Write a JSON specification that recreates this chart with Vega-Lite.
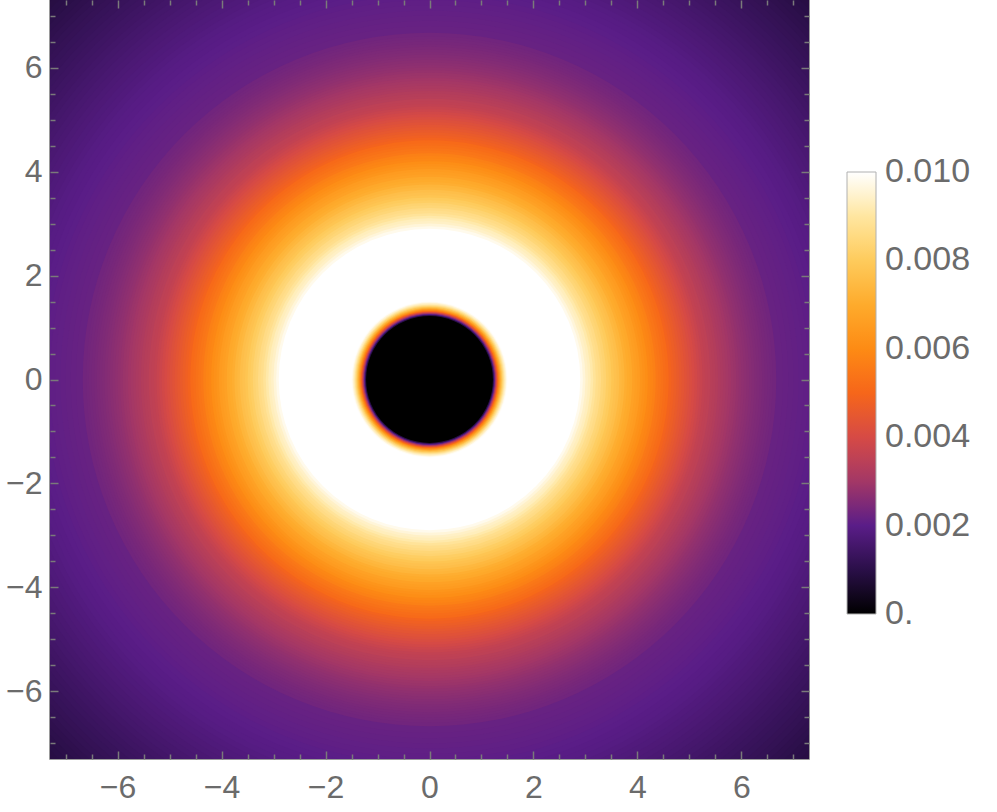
{
  "$schema": "https://vega.github.io/schema/vega-lite/v6.json",
  "autosize": "none",
  "width": 759,
  "height": 759,
  "padding": {"left": 50, "top": 0, "right": 188, "bottom": 53},
  "background": "white",
  "config": {
    "view": {"stroke": "#7a7a7a", "strokeWidth": 1.5},
    "font": "Liberation Sans",
    "axis": {"labelFont": "Liberation Sans", "labelColor": "#6b6b6b", "tickColor": "#7a7a7a", "tickWidth": 1.5, "domain": false, "grid": false, "labelOverlap": false, "labelFlush": false, "zindex": 2}
  },
  "datasets": {
    "profile": [
      {"r": 10.5, "v": 0.0009}, {"r": 10.4, "v": 0.00092}, {"r": 10.3, "v": 0.00095}, {"r": 10.2, "v": 0.00098}, {"r": 10.1, "v": 0.00102},
      {"r": 10.0, "v": 0.00106}, {"r": 9.9, "v": 0.0011}, {"r": 9.8, "v": 0.00114}, {"r": 9.7, "v": 0.00118}, {"r": 9.6, "v": 0.00122},
      {"r": 9.5, "v": 0.00126}, {"r": 9.4, "v": 0.0013}, {"r": 9.3, "v": 0.00134}, {"r": 9.2, "v": 0.00138}, {"r": 9.1, "v": 0.00142},
      {"r": 9.0, "v": 0.00146}, {"r": 8.9, "v": 0.0015}, {"r": 8.8, "v": 0.00154}, {"r": 8.7, "v": 0.00158}, {"r": 8.6, "v": 0.00162},
      {"r": 8.5, "v": 0.00166}, {"r": 8.4, "v": 0.0017}, {"r": 8.3, "v": 0.00174}, {"r": 8.2, "v": 0.00178}, {"r": 8.1, "v": 0.00182},
      {"r": 8.0, "v": 0.00186}, {"r": 7.9, "v": 0.0019}, {"r": 7.8, "v": 0.00193}, {"r": 7.7, "v": 0.00196}, {"r": 7.6, "v": 0.00199},
      {"r": 7.5, "v": 0.00202}, {"r": 7.4, "v": 0.00205}, {"r": 7.3, "v": 0.00208}, {"r": 7.2, "v": 0.0021}, {"r": 7.1, "v": 0.00212},
      {"r": 7.0, "v": 0.00214}, {"r": 6.9, "v": 0.00216}, {"r": 6.8, "v": 0.00218}, {"r": 6.67, "v": 0.00231},
      {"r": 6.6, "v": 0.00234}, {"r": 6.55, "v": 0.00237}, {"r": 6.5, "v": 0.0024}, {"r": 6.45, "v": 0.00243}, {"r": 6.4, "v": 0.00246},
      {"r": 6.35, "v": 0.00249}, {"r": 6.3, "v": 0.00252}, {"r": 6.25, "v": 0.00256}, {"r": 6.2, "v": 0.0026}, {"r": 6.15, "v": 0.00264},
      {"r": 6.1, "v": 0.00268}, {"r": 6.05, "v": 0.00272}, {"r": 6.0, "v": 0.00277}, {"r": 5.95, "v": 0.00282}, {"r": 5.9, "v": 0.00287},
      {"r": 5.85, "v": 0.00292}, {"r": 5.8, "v": 0.00298}, {"r": 5.75, "v": 0.00304}, {"r": 5.7, "v": 0.0031}, {"r": 5.65, "v": 0.00316},
      {"r": 5.6, "v": 0.00322}, {"r": 5.55, "v": 0.0033}, {"r": 5.5, "v": 0.00335}, {"r": 5.45, "v": 0.0034}, {"r": 5.4, "v": 0.0035},
      {"r": 5.35, "v": 0.00355}, {"r": 5.3, "v": 0.0036}, {"r": 5.25, "v": 0.0037}, {"r": 5.2, "v": 0.0038}, {"r": 5.15, "v": 0.0039},
      {"r": 5.1, "v": 0.004}, {"r": 5.05, "v": 0.0041}, {"r": 5.0, "v": 0.0042}, {"r": 4.95, "v": 0.0043}, {"r": 4.9, "v": 0.0044},
      {"r": 4.85, "v": 0.0045}, {"r": 4.8, "v": 0.0046}, {"r": 4.75, "v": 0.0047}, {"r": 4.7, "v": 0.0048}, {"r": 4.65, "v": 0.0049},
      {"r": 4.6, "v": 0.0051}, {"r": 4.55, "v": 0.0052}, {"r": 4.5, "v": 0.0053}, {"r": 4.45, "v": 0.0054}, {"r": 4.4, "v": 0.0055},
      {"r": 4.35, "v": 0.0057}, {"r": 4.3, "v": 0.0058}, {"r": 4.25, "v": 0.0059}, {"r": 4.2, "v": 0.0061}, {"r": 4.15, "v": 0.0062},
      {"r": 4.1, "v": 0.0063}, {"r": 4.05, "v": 0.0065}, {"r": 4.0, "v": 0.0066}, {"r": 3.95, "v": 0.0067}, {"r": 3.9, "v": 0.0069},
      {"r": 3.85, "v": 0.007}, {"r": 3.8, "v": 0.0071}, {"r": 3.75, "v": 0.0073}, {"r": 3.7, "v": 0.0074}, {"r": 3.65, "v": 0.0076},
      {"r": 3.6, "v": 0.0077}, {"r": 3.55, "v": 0.0078}, {"r": 3.5, "v": 0.008}, {"r": 3.45, "v": 0.0081}, {"r": 3.4, "v": 0.0083},
      {"r": 3.35, "v": 0.0084}, {"r": 3.3, "v": 0.0086}, {"r": 3.25, "v": 0.0087}, {"r": 3.2, "v": 0.0089}, {"r": 3.15, "v": 0.0091},
      {"r": 3.1, "v": 0.0093}, {"r": 3.05, "v": 0.0094}, {"r": 3.0, "v": 0.0096}, {"r": 2.95, "v": 0.0098}, {"r": 2.9, "v": 0.01},
      {"r": 2.85, "v": 0.0105}, {"r": 1.5, "v": 0.0099}, {"r": 1.48, "v": 0.0096}, {"r": 1.46, "v": 0.0093}, {"r": 1.44, "v": 0.0089},
      {"r": 1.42, "v": 0.0084}, {"r": 1.4, "v": 0.0078}, {"r": 1.38, "v": 0.0072}, {"r": 1.36, "v": 0.0065}, {"r": 1.34, "v": 0.0058},
      {"r": 1.32, "v": 0.005}, {"r": 1.3, "v": 0.004}, {"r": 1.28, "v": 0.003}, {"r": 1.26, "v": 0.002}, {"r": 1.24, "v": 0.001},
      {"r": 1.22, "v": 0.0}
    ],
    "frame": [{"x": -7.3, "y": -7.3}, {"x": 7.3, "y": 7.3}]
  },
  "layer": [
    {
      "data": {"name": "profile"},
      "mark": {"type": "arc", "theta": 0, "theta2": 6.2832, "clip": true, "strokeWidth": 0},
      "encoding": {
        "radius": {"field": "r", "type": "quantitative", "stack": null, "scale": {"type": "linear", "domain": [0, 7.3], "range": [0, 379.5], "zero": true, "nice": false}},
        "color": {
          "field": "v", "type": "quantitative",
          "scale": {
            "type": "linear",
            "domain": [0, 0.001, 0.002, 0.003, 0.004, 0.005, 0.006, 0.007, 0.008, 0.009, 0.01],
            "range": ["#000000", "#2a0f48", "#5a1d88", "#a33766", "#d64a45", "#f6661a", "#fd8b14", "#feab2c", "#fecb5c", "#ffe6a0", "#ffffff"],
            "clamp": true,
            "interpolate": "rgb"
          },
          "legend": {
            "title": null,
            "orient": "none",
            "legendX": 797,
            "legendY": 172,
            "direction": "vertical",
            "gradientLength": 442,
            "gradientThickness": 29,
            "gradientStrokeColor": "#b0b0b0",
            "gradientStrokeWidth": 1,
            "values": [0, 0.002, 0.004, 0.006, 0.008, 0.01],
            "labelExpr": "datum.value == 0 ? '0.' : format(datum.value, '.3f')",
            "labelFont": "Liberation Sans",
            "labelFontSize": 34,
            "labelColor": "#6b6b6b",
            "labelOffset": 9,
            "labelOverlap": false,
            "padding": 0,
            "encode": {"labels": {"update": {"baseline": {"value": "middle"}}}}
          }
        }
      }
    },
    {
      "data": {"name": "frame"},
      "mark": {"type": "point", "opacity": 0},
      "encoding": {
        "x": {"field": "x", "type": "quantitative", "scale": {"domain": [-7.3, 7.3], "nice": false, "zero": false},
          "axis": {"orient": "bottom", "title": null, "zindex": 2, "values": [-7, -6.5, -6, -5.5, -5, -4.5, -4, -3.5, -3, -2.5, -2, -1.5, -1, -0.5, 0, 0.5, 1, 1.5, 2, 2.5, 3, 3.5, 4, 4.5, 5, 5.5, 6, 6.5, 7],
            "labelExpr": "datum.value % 2 === 0 ? format(datum.value, 'd') : ''", "labelFontSize": 32, "labelPadding": 21,
            "tickSize": {"condition": {"test": "datum.value % 2 === 0", "value": -8}, "value": -5}}},
        "y": {"field": "y", "type": "quantitative", "scale": {"domain": [-7.3, 7.3], "nice": false, "zero": false},
          "axis": {"orient": "left", "title": null, "zindex": 2, "values": [-7, -6.5, -6, -5.5, -5, -4.5, -4, -3.5, -3, -2.5, -2, -1.5, -1, -0.5, 0, 0.5, 1, 1.5, 2, 2.5, 3, 3.5, 4, 4.5, 5, 5.5, 6, 6.5, 7],
            "labelExpr": "datum.value % 2 === 0 ? format(datum.value, 'd') : ''", "labelFontSize": 32, "labelPadding": 16,
            "tickSize": {"condition": {"test": "datum.value % 2 === 0", "value": -8}, "value": -5}}}
      }
    },
    {
      "data": {"name": "frame"},
      "mark": {"type": "point", "opacity": 0},
      "encoding": {
        "x": {"field": "x", "type": "quantitative", "scale": {"domain": [-7.3, 7.3], "nice": false, "zero": false},
          "axis": {"orient": "top", "title": null, "labels": false, "zindex": 2, "values": [-7, -6.5, -6, -5.5, -5, -4.5, -4, -3.5, -3, -2.5, -2, -1.5, -1, -0.5, 0, 0.5, 1, 1.5, 2, 2.5, 3, 3.5, 4, 4.5, 5, 5.5, 6, 6.5, 7],
            "tickSize": {"condition": {"test": "datum.value % 2 === 0", "value": -8}, "value": -5}}},
        "y": {"field": "y", "type": "quantitative", "scale": {"domain": [-7.3, 7.3], "nice": false, "zero": false},
          "axis": {"orient": "right", "title": null, "labels": false, "zindex": 2, "values": [-7, -6.5, -6, -5.5, -5, -4.5, -4, -3.5, -3, -2.5, -2, -1.5, -1, -0.5, 0, 0.5, 1, 1.5, 2, 2.5, 3, 3.5, 4, 4.5, 5, 5.5, 6, 6.5, 7],
            "tickSize": {"condition": {"test": "datum.value % 2 === 0", "value": -8}, "value": -5}}}
      }
    }
  ],
  "resolve": {"scale": {"x": "independent", "y": "independent"}, "axis": {"x": "independent", "y": "independent"}}
}
